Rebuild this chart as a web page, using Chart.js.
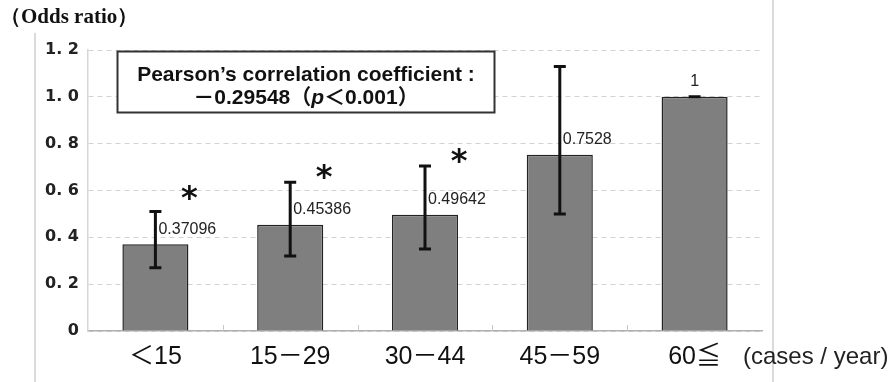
<!DOCTYPE html>
<html>
  <head>
    <title>Odds ratio by annual case volume</title>
    <script src="https://cdn.jsdelivr.net/npm/chart.js@4.4.1/dist/chart.umd.min.js"></script>
    <style>
      html, body { margin: 0; padding: 0; background: #fff; }
    </style>
  </head>

  <body>
    <canvas id="canvas" width="892" height="382"></canvas>
    <script>
      // categories (cases / year) and values
      const volumeGroups = ['＜15', '15－29', '30－44', '45－59', '60≦'];
      const oddsRatio = [0.37096, 0.45386, 0.49642, 0.7528, 1];
      const ciLower = [0.27, 0.32, 0.35, 0.50, 1];
      const ciUpper = [0.51, 0.635, 0.705, 1.13, 1];
      const starLevel = [0.59, 0.68, 0.75, null, null];
      const yMax = 1.2;
      const yStep = 0.2;

      const sans = '"Liberation Sans", Arial, "Noto Sans CJK JP", sans-serif';

      const extras = {
        id: 'extras',
        afterDatasetsDraw(chart) {
          const ctx = chart.ctx;
          const y = chart.scales.y;
          const meta = chart.getDatasetMeta(0);
          ctx.save();
          meta.data.forEach((bar, i) => {
            const cx = bar.x;
            const top = y.getPixelForValue(ciUpper[i]);
            const bot = y.getPixelForValue(ciLower[i]);
            ctx.strokeStyle = '#111';
            ctx.lineWidth = 3;
            ctx.beginPath();
            ctx.moveTo(cx, top);
            ctx.lineTo(cx, bot);
            ctx.moveTo(cx - 6, top);
            ctx.lineTo(cx + 6, top);
            ctx.moveTo(cx - 6, bot);
            ctx.lineTo(cx + 6, bot);
            ctx.stroke();

            // value label
            ctx.fillStyle = '#222';
            ctx.font = '16px ' + sans;
            ctx.textBaseline = 'middle';
            const ly = bar.y - 15;
            if (ciUpper[i] > oddsRatio[i]) {
              ctx.textAlign = 'left';
              ctx.fillText(String(oddsRatio[i]), cx + 3, ly);
            } else {
              ctx.textAlign = 'center';
              ctx.fillText(String(oddsRatio[i]), cx, ly);
            }

            // significance mark, centred on its glyph box
            if (starLevel[i] != null) {
              ctx.font = 'bold 32px "DejaVu Sans", sans-serif';
              ctx.textAlign = 'center';
              ctx.textBaseline = 'alphabetic';
              ctx.fillStyle = '#111';
              const m = ctx.measureText('*');
              const cy = y.getPixelForValue(starLevel[i]);
              ctx.fillText('*', cx + 34, cy + (m.actualBoundingBoxAscent - m.actualBoundingBoxDescent) / 2);
            }
          });
          ctx.restore();
        },
        afterDraw(chart) {
          const ctx = chart.ctx;
          const area = chart.chartArea;
          const x = chart.scales.x;
          ctx.save();

          // light frame lines of the original figure
          ctx.strokeStyle = '#dadada';
          ctx.lineWidth = 2;
          ctx.beginPath();
          ctx.moveTo(35, 33);
          ctx.lineTo(35, chart.height);
          ctx.moveTo(area.right + 11, 0);
          ctx.lineTo(area.right + 11, chart.height);
          ctx.stroke();

          // short inner ticks between categories
          ctx.strokeStyle = '#c8c8c8';
          ctx.lineWidth = 1;
          ctx.beginPath();
          for (let i = 1; i < volumeGroups.length; i++) {
            const px = Math.round(x.getPixelForValue(i - 0.5)) + 0.5;
            ctx.moveTo(px, area.bottom - 6);
            ctx.lineTo(px, area.bottom);
          }
          ctx.stroke();

          // y axis title
          ctx.fillStyle = '#111';
          ctx.font = 'bold 21px "Liberation Serif", "Times New Roman", serif';
          ctx.textAlign = 'left';
          ctx.textBaseline = 'middle';
          ctx.fillText('（Odds ratio）', 0, 18);

          // unit after the last category
          ctx.font = '24px ' + sans;
          ctx.fillStyle = '#222';
          ctx.fillText('(cases / year)', area.right - 19, 357);

          // correlation box
          const bx = area.left + 29.5, by = area.top + 1.5, bw = 377, bh = 61;
          ctx.fillStyle = '#fff';
          ctx.fillRect(bx, by, bw, bh);
          ctx.strokeStyle = '#333';
          ctx.lineWidth = 2;
          ctx.strokeRect(bx, by, bw, bh);

          const mid = bx + bw / 2;
          ctx.fillStyle = '#111';
          ctx.textAlign = 'center';
          ctx.font = 'bold 21px ' + sans;
          ctx.fillText('Pearson’s correlation coefficient :', mid, by + 24);

          const parts = [
            ['－0.29548', 'bold 21px ' + sans],
            ['（', 'bold 21px ' + sans],
            ['p', 'italic bold 21px ' + sans],
            ['＜0.001）', 'bold 21px ' + sans],
          ];
          let total = 0;
          parts.forEach(p => { ctx.font = p[1]; total += ctx.measureText(p[0]).width; });
          let px = mid - total / 2;
          ctx.textAlign = 'left';
          parts.forEach(p => {
            ctx.font = p[1];
            ctx.fillText(p[0], px, by + 47);
            px += ctx.measureText(p[0]).width;
          });
          ctx.restore();
        },
      };

      const ctx = document.getElementById('canvas').getContext('2d');
      const chart = new Chart(ctx, {
        type: 'bar',
        data: {
          labels: volumeGroups,
          datasets: [
            {
              label: 'Odds ratio',
              data: oddsRatio,
              backgroundColor: '#7f7f7f',
              borderColor: '#222',
              borderWidth: 1.5,
              barPercentage: 0.49,
              categoryPercentage: 1,
            },
          ],
        },
        options: {
          responsive: false,
          animation: false,
          layout: { padding: { top: 50, right: 130, left: 0, bottom: 0 } },
          plugins: {
            legend: { display: false },
            tooltip: { enabled: false },
          },
          scales: {
            x: {
              grid: { drawOnChartArea: false, drawTicks: false },
              border: { color: '#b0b0b0', width: 1.5 },
              ticks: {
                color: '#111',
                padding: 11,
                font: { size: 25, family: sans },
              },
              afterFit: (scale) => { scale.height = 51; },
            },
            y: {
              min: 0,
              max: yMax,
              grid: { color: '#d2d2d2', lineWidth: 1, drawTicks: false },
              border: { color: '#d6d6d6', width: 1.5, dash: [5, 4] },
              ticks: {
                stepSize: yStep,
                padding: 9,
                color: '#222',
                font: { size: 16, weight: 'bold', family: '"DejaVu Sans", sans-serif' },
                callback: (v) => (v === 0 ? '0' : Number(v).toFixed(1).replace('.', '. ')),
              },
              afterFit: (scale) => { scale.width = 88; },
            },
          },
        },
        plugins: [extras],
      });
    </script>
  </body>
</html>
